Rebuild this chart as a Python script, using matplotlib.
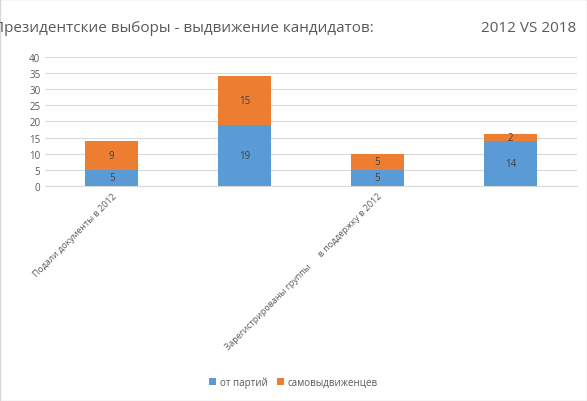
import matplotlib
matplotlib.use("Agg")
import matplotlib.pyplot as plt
from matplotlib.patches import Rectangle

categories = ["Подали документы в 2012", "", "Зарегистрированы группы      в поддержку в 2012", ""]
party = [5, 19, 5, 14]
self_nom = [9, 15, 5, 2]

plt.rcParams['font.family'] = ['Open Sans', 'DejaVu Sans']
fig = plt.figure(figsize=(5.87, 4.02), dpi=100)
ax = fig.add_axes([0.077, 0.535, 0.906, 0.321])
x = range(len(categories))
b1 = ax.bar(x, party, 0.4, color="#5B9BD5", label="от партий", zorder=3)
b2 = ax.bar(x, self_nom, 0.4, bottom=party, color="#ED7D31", label="самовыдвиженцев", zorder=3)
for bars, vals, bots in ((b1, party, [0]*4), (b2, self_nom, party)):
    for r, v, b in zip(bars, vals, bots):
        ax.text(r.get_x() + r.get_width()/2, b + v/2, str(v), ha="center", va="center",
                fontsize=7, color="#404040", zorder=4)
ax.set_ylim(0, 40)
ax.set_yticks(range(0, 41, 5))
ax.set_xlim(-0.5, 3.5)
ax.set_xticks(list(x))
ax.set_xticklabels(categories, rotation=45, ha="right", rotation_mode="anchor", fontsize=6.5, color="#595959")
ax.tick_params(axis="y", labelsize=7, colors="#595959", length=0)
ax.tick_params(axis="x", length=0)
ax.grid(axis="y", color="#D9D9D9", linewidth=0.8, zorder=0)
for s in ["top", "right", "left"]:
    ax.spines[s].set_visible(False)
ax.spines["bottom"].set_color("#D9D9D9")
fig.text(-0.012, 0.93, "Президентские выборы - выдвижение кандидатов:", fontsize=11, color="#595959", va="center")
fig.text(0.82, 0.93, "2012 VS 2018", fontsize=11, color="#595959", va="center")
fig.legend(loc="center", bbox_to_anchor=(0.5, 0.047), ncol=2, frameon=False, fontsize=7,
           handlelength=0.7, handleheight=0.7, handletextpad=0.4, columnspacing=1.0, labelcolor="#595959")
fig.patches.append(Rectangle((0, 0), 1, 1, transform=fig.transFigure, fill=False, edgecolor="#D9D9D9", linewidth=1))
fig.savefig("out.png", dpi=100)
